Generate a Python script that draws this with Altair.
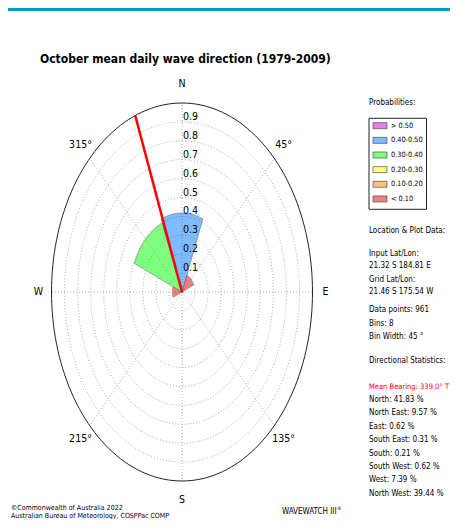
import numpy as np
import pandas as pd
import altair as alt

# ---------------- data ----------------
directions = ["N", "NE", "E", "SE", "S", "SW", "W", "NW"]
dir_names = ["North", "North East", "East", "South East", "South", "South West", "West", "North West"]
bin_centers = [0, 45, 90, 135, 180, 225, 270, 315]
percent = [41.83, 9.57, 0.62, 0.31, 0.21, 0.62, 7.39, 39.44]
bin_width = 45
mean_bearing = 339.0
data_points = 961

prob_classes = ["> 0.50", "0.40-0.50", "0.30-0.40", "0.20-0.30", "0.10-0.20", "< 0.10"]
class_lower = [0.5, 0.4, 0.3, 0.2, 0.1, 0.0]
class_colors = ["#cc00cc", "#0077ff", "#00ff00", "#ffff00", "#ff8000", "#e00000"]

ring_values = [0.1, 0.2, 0.3, 0.4, 0.5, 0.6, 0.7, 0.8, 0.9]
ring_labels = ["0.1", "0.2", "0.3", "0.4", "0.5", "0.6", "0.7", "0.8", "0.9"]
compass_angles = [0, 45, 90, 135, 180, 225, 270, 315]
compass_labels = ["N", "45°", "E", "135°", "S", "215°", "W", "315°"]

title_text = "October mean daily wave direction (1979-2009)"
input_latlon = " 21.32 S 184.81 E"
grid_latlon = " 21.46 S 175.54 W"

# ---------------- layout ----------------
W, H = 442, 511
OFF = 8
CX, CY = 182 - OFF, 292 - OFF
RX, RY = 130.5, 189.0
FONT = "Liberation Sans Narrow, DejaVu Sans Condensed, DejaVu Sans, sans-serif"
PFS = 8.0   # panel font size
LFS = 7.3   # legend label font size

xscale = alt.Scale(domain=[-CX / RX, (W - CX) / RX], nice=False, zero=False)
yscale = alt.Scale(domain=[-(H - CY) / RY, CY / RY], nice=False, zero=False)
color_scale = alt.Scale(domain=prob_classes, range=class_colors)


def polar(r, deg):
    a = np.radians(deg)
    return r * np.sin(a), r * np.cos(a)


def XY(chart):
    return chart.encode(
        x=alt.X("x:Q", scale=xscale, axis=None),
        y=alt.Y("y:Q", scale=yscale, axis=None),
    )


# rings
ring_rows = []
for r in ring_values + [1.0]:
    for k, a in enumerate(np.arange(0, 362, 2)):
        x, y = polar(r, a)
        ring_rows.append(dict(ring=r, i=k, x=x, y=y, outer=(r == 1.0)))
ring_df = pd.DataFrame(ring_rows)

spoke_rows = []
for a in compass_angles:
    for k, r in enumerate([0.0, 1.0]):
        x, y = polar(r, a)
        spoke_rows.append(dict(spoke=a, i=k, x=x, y=y))
spoke_df = pd.DataFrame(spoke_rows)

wedge_rows = []
for d, c, pct in zip(directions, bin_centers, percent):
    p = pct / 100.0
    cls = next(lbl for lbl, lo in zip(prob_classes, class_lower) if p > lo)
    wedge_rows.append(dict(dir=d, cls=cls, i=0, x=0.0, y=0.0))
    for k, a in enumerate(np.linspace(c - bin_width / 2, c + bin_width / 2, 46)):
        x, y = polar(p, a)
        wedge_rows.append(dict(dir=d, cls=cls, i=k + 1, x=x, y=y))
wedge_df = pd.DataFrame(wedge_rows)

bear_rows = []
for k, r in enumerate([0.0, 1.0]):
    x, y = polar(r, mean_bearing)
    bear_rows.append(dict(i=k, x=x, y=y))
bear_df = pd.DataFrame(bear_rows)

rlab_df = pd.DataFrame({"x": [0.0] * len(ring_values), "y": ring_values, "t": ring_labels})

comp_rows = []
for a, lbl in zip(compass_angles, compass_labels):
    x, y = polar(1.1, a)
    comp_rows.append(dict(x=x, y=y, t=lbl))
comp_df = pd.DataFrame(comp_rows)

# ---------------- layers ----------------
grid = XY(alt.Chart(ring_df[~ring_df.outer]).mark_line(
    color="#a0a0a0", strokeWidth=0.9, strokeDash=[1, 2])).encode(
    detail="ring:N", order="i:Q")
spokes = XY(alt.Chart(spoke_df).mark_line(
    color="#a0a0a0", strokeWidth=0.9, strokeDash=[1, 2])).encode(
    detail="spoke:N", order="i:Q")
outer = XY(alt.Chart(ring_df[ring_df.outer]).mark_line(
    color="#222222", strokeWidth=1)).encode(order="i:Q")

wedges = XY(alt.Chart(wedge_df).mark_line(
    interpolate="linear-closed", filled=True, fillOpacity=0.5,
    stroke="#707070", strokeWidth=0.6)).encode(
    detail="dir:N", order="i:Q",
    color=alt.Color("cls:N", scale=color_scale, legend=None))

bearing = XY(alt.Chart(bear_df).mark_line(color="#ff0000", strokeWidth=2.5)).encode(order="i:Q")

rlabels = XY(alt.Chart(rlab_df).mark_text(
    align="left", baseline="alphabetic", dx=1, dy=-2, font=FONT, fontSize=10.5,
    color="#000000")).encode(text="t:N")

clabels = XY(alt.Chart(comp_df).mark_text(
    align="center", baseline="middle", font=FONT, fontSize=10.5,
    color="#000000")).encode(text="t:N")

# pixel-positioned texts
panel_lines = ["Probabilities:", "Location & Plot Data:", "Input Lat/Lon:", input_latlon,
               "Grid Lat/Lon:", grid_latlon, f"Data points: {data_points}",
               f"Bins: {len(directions)}", f"Bin Width: {bin_width} °",
               "Directional Statistics:", f"Mean Bearing: {mean_bearing:.1f}° T"]
panel_y = [103, 231, 254, 266, 280, 292, 310, 324, 337, 361, 387]
panel_col = ["#000000"] * 10 + ["#ff0000"]
panel_fs = [PFS] * 10 + [7.5]
for k, (nm, pct) in enumerate(zip(dir_names, percent)):
    panel_lines.append(f"{nm}: {pct:.2f} %")
    panel_y.append(400 + 13.4 * k)
    panel_col.append("#000000")
    panel_fs.append(PFS)

txt_rows = []
for t, y, c, fs in zip(panel_lines, panel_y, panel_col, panel_fs):
    txt_rows.append(dict(t=t, px=369 - OFF, py=y - OFF, c=c, fs=fs))
for k, lbl in enumerate(prob_classes):
    txt_rows.append(dict(t=lbl, px=391 - OFF, py=125.7 + 14.65 * k - OFF, c="#000000", fs=LFS))
txt_rows.append(dict(t="©Commonwealth of Australia 2022", px=11 - OFF, py=507.5 - OFF, c="#000000", fs=7))
txt_rows.append(dict(t="Australian Bureau of Meteorology, COSPPac COMP", px=11 - OFF, py=515.5 - OFF, c="#000000", fs=7))
txt_rows.append(dict(t="WAVEWATCH III", px=282 - OFF, py=512 - OFF, c="#000000", fs=8))
txt_rows.append(dict(t="®", px=337 - OFF, py=507.5 - OFF, c="#000000", fs=5))
txt_df = pd.DataFrame(txt_rows)

texts = alt.Chart(txt_df).mark_text(align="left", baseline="middle", font=FONT).encode(
    x=alt.X("px:Q", scale=None, axis=None),
    y=alt.Y("py:Q", scale=None, axis=None),
    text="t:N",
    size=alt.Size("fs:Q", scale=None, legend=None),
    color=alt.Color("c:N", scale=None, legend=None),
)

title = alt.Chart(pd.DataFrame({"t": [title_text]})).mark_text(
    align="left", baseline="middle", font=FONT, fontSize=12.0, fontWeight="bold",
    color="#000000").encode(text="t:N", x=alt.value(40 - OFF), y=alt.value(59 - OFF))

sw_df = pd.DataFrame({"cls": prob_classes,
                      "y0": [125.7 + 14.65 * k - 3 - OFF for k in range(len(prob_classes))],
                      "y1": [125.7 + 14.65 * k + 3 - OFF for k in range(len(prob_classes))]})
swatches = alt.Chart(sw_df).mark_rect(fillOpacity=0.5, stroke="#505050", strokeWidth=0.7).encode(
    x=alt.value(373 - OFF), x2=alt.value(387 - OFF),
    y=alt.Y("y0:Q", scale=None, axis=None), y2="y1:Q",
    color=alt.Color("cls:N", scale=color_scale, legend=None),
)

legend_box = alt.Chart(pd.DataFrame({"a": [0]})).mark_rect(
    filled=False, stroke="#222222", strokeWidth=1).encode(
    x=alt.value(369 - OFF), x2=alt.value(426.5 - OFF),
    y=alt.value(118.3 - OFF), y2=alt.value(209.3 - OFF))

top_bar = alt.Chart(pd.DataFrame({"a": [0]})).mark_rect(color="#0099cc").encode(
    x=alt.value(0), x2=alt.value(W), y=alt.value(0), y2=alt.value(11 - OFF))

chart = alt.layer(
    top_bar, grid, spokes, outer, wedges, bearing, rlabels, clabels,
    title, legend_box, swatches, texts,
).resolve_scale(x="independent", y="independent").properties(
    width=W, height=H, padding=0, autosize=alt.AutoSizeParams(type="none"),
    background="#ffffff",
).configure_view(stroke=None)

chart.save("out.html", embed_options={"renderer": "svg", "actions": False})
